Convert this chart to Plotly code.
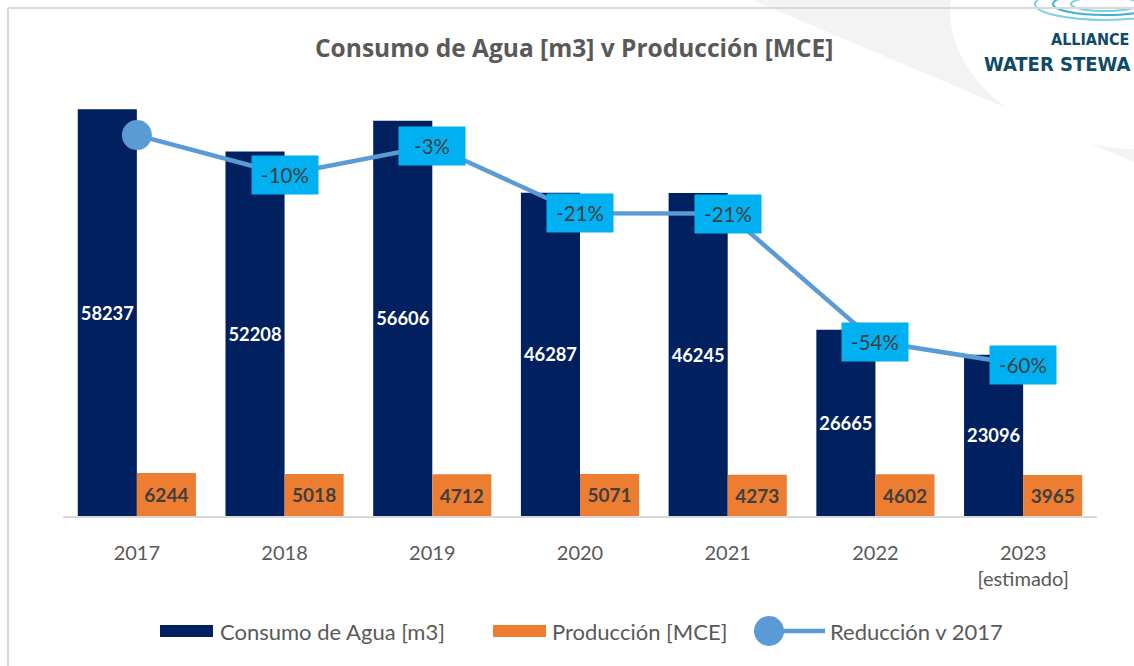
import plotly.graph_objects as go

# ---------------- data ----------------
years = ["2017", "2018", "2019", "2020", "2021", "2022", "2023"]
tick_labels = ["2017", "2018", "2019", "2020", "2021", "2022", "2023<br>[estimado]"]
consumo = [58237, 52208, 56606, 46287, 46245, 26665, 23096]
produccion = [6244, 5018, 4712, 5071, 4273, 4602, 3965]
reduccion = [0.0, -0.1035, -0.028, -0.2052, -0.2059, -0.5421, -0.6034]

title_text = "Consumo de Agua [m3] v Producción [MCE]"
legend_names = ["Consumo de Agua [m3]", "Producción [MCE]", "Reducción v 2017"]

# ---------------- style ----------------
W, H = 1134, 666
L, R, T, B = 63, 37, 97, 150
PW, PH = W - L - R, H - T - B
FONT = "Lato, 'Open Sans', sans-serif"
TFONT = "'Open Sans', Lato, sans-serif"
LOGOFONT = "'DejaVu Sans Condensed', 'Liberation Sans Narrow', Lato, sans-serif"
NAVY = "#002060"
ORANGE = "#ED7D31"
LINE = "#5B9BD5"
CYAN = "#00B0F0"
GREY_TXT = "#595959"


def px(x):
    return (x - L) / PW


def py(y):
    return (H - B - y) / PH


hidden_axis = dict(showgrid=False, zeroline=False, showline=False,
                   showticklabels=False, ticks="")

fig = go.Figure()

fig.add_trace(go.Bar(
    x=years, y=consumo, name=legend_names[0],
    marker=dict(color=NAVY, line=dict(width=0)),
    width=0.4, offset=-0.4,
    text=[str(v) for v in consumo], textposition="inside",
    insidetextanchor="middle", textangle=0,
    textfont=dict(family=FONT, size=19.5, color="white", weight="bold"),
    yaxis="y", showlegend=False,
))

fig.add_trace(go.Bar(
    x=years, y=produccion, name=legend_names[1],
    marker=dict(color=ORANGE, line=dict(width=0)),
    width=0.4, offset=0.0,
    text=[str(v) for v in produccion], textposition="inside",
    insidetextanchor="middle", textangle=0,
    textfont=dict(family=FONT, size=19, color="#404040", weight="bold"),
    yaxis="y3", showlegend=False,
))

fig.add_trace(go.Scatter(
    x=years, y=reduccion, name=legend_names[2],
    mode="lines+markers",
    line=dict(color=LINE, width=4.5),
    marker=dict(color=LINE, opacity=1, size=[30] + [0] * (len(years) - 1), line=dict(width=0)),
    opacity=1,
    yaxis="y2", showlegend=False, cliponaxis=False,
))

annotations = []
for i, v in enumerate(reduccion):
    if i == 0:
        continue
    annotations.append(dict(
        x=i, y=v, xref="x", yref="y2", text=f"{v:.0%}", showarrow=False,
        bgcolor=CYAN, font=dict(family=FONT, size=20.5, color="#404040"),
        width=52, height=24, borderpad=7, xanchor="center", yanchor="middle",
    ))

# title
annotations.append(dict(
    x=px(574), y=py(48), xref="paper", yref="paper", text=f"<b>{title_text}</b>",
    showarrow=False, font=dict(family=TFONT, size=24.5, color=GREY_TXT),
    xanchor="center", yanchor="middle",
))

# legend texts
for xt, name in zip([218, 550, 828], legend_names):
    annotations.append(dict(
        x=px(xt), y=py(631), xref="paper", yref="paper", text=name, showarrow=False,
        font=dict(family=FONT, size=22, color=GREY_TXT), xanchor="left", yanchor="middle",
    ))

# logo texts (visible part of the logo)
annotations.append(dict(
    x=px(1131), y=py(39), xref="paper", yref="paper", text="<b>ALLIANCE</b>", showarrow=False,
    font=dict(family=LOGOFONT, size=16, color="#0D4A68"),
    xanchor="right", yanchor="middle",
))
annotations.append(dict(
    x=px(1133), y=py(64), xref="paper", yref="paper", text="<b>WATER STEWA</b>", showarrow=False,
    font=dict(family=LOGOFONT, size=20, color="#0D4A68"),
    xanchor="right", yanchor="middle",
))

shapes = []
# decorative grey wedge
shapes.append(dict(
    type="path", xref="paper", yref="paper",
    path=f"M {px(752)},{py(0)} L {px(1134)},{py(0)} L {px(1134)},{py(162)} Z",
    fillcolor="#F3F3F3", line=dict(width=0), layer="below",
))
shapes.append(dict(
    type="circle", xref="paper", yref="paper",
    x0=px(950), x1=px(1350), y0=py(-130), y1=py(150),
    fillcolor="white", line=dict(width=0), layer="below",
))
# logo rings
for rx, ry, col in [(70, 16, "#7CCFE6"), (52, 11, "#3FB0D5"), (34, 7, "#7CCFE6")]:
    shapes.append(dict(
        type="circle", xref="paper", yref="paper",
        x0=px(1105 - rx), x1=px(1105 + rx), y0=py(4 - ry), y1=py(4 + ry),
        line=dict(color=col, width=2),
    ))
# frame
shapes.append(dict(type="line", xref="paper", yref="paper",
                   x0=px(8), x1=px(8), y0=py(8), y1=py(H + 5),
                   line=dict(color="#D9D9D9", width=2)))
shapes.append(dict(type="line", xref="paper", yref="paper",
                   x0=px(8), x1=px(W + 5), y0=py(8), y1=py(8),
                   line=dict(color="#D9D9D9", width=2)))
# legend symbols
shapes.append(dict(type="rect", xref="paper", yref="paper",
                   x0=px(160), x1=px(213), y0=py(637), y1=py(625),
                   fillcolor=NAVY, line=dict(width=0)))
shapes.append(dict(type="rect", xref="paper", yref="paper",
                   x0=px(493), x1=px(546), y0=py(637), y1=py(625),
                   fillcolor=ORANGE, line=dict(width=0)))
shapes.append(dict(type="line", xref="paper", yref="paper",
                   x0=px(769), x1=px(825), y0=py(631), y1=py(631),
                   line=dict(color=LINE, width=4.5)))
shapes.append(dict(type="circle", xref="paper", yref="paper",
                   x0=px(754), x1=px(784), y0=py(646), y1=py(616),
                   fillcolor=LINE, line=dict(width=0)))

fig.update_layout(
    width=W, height=H,
    margin=dict(l=L, r=R, t=T, b=B, autoexpand=False),
    paper_bgcolor="white", plot_bgcolor="rgba(0,0,0,0)",
    barmode="overlay",
    showlegend=False,
    hovermode=False,
    font=dict(family=FONT, color=GREY_TXT),
    xaxis=dict(
        type="category", tickvals=years, ticktext=tick_labels,
        showline=True, linecolor="#D9D9D9", linewidth=2,
        showgrid=False, ticks="", zeroline=False,
        tickfont=dict(family=FONT, size=20, color=GREY_TXT),
        ticklabelstandoff=18, range=[-0.5, len(years) - 0.5],
    ),
    yaxis=dict(range=[0, 60000], **hidden_axis),
    yaxis2=dict(range=[-1.0, 0.1], overlaying="y", **hidden_axis),
    yaxis3=dict(type="log", range=[-0.444, 40.87], overlaying="y", **hidden_axis),
    annotations=annotations,
    shapes=shapes,
)

fig.write_html(
    "out.html",
    config={"displayModeBar": False, "staticPlot": False},
    post_script="document.body.style.margin='0';document.body.style.overflow='hidden';",
)
